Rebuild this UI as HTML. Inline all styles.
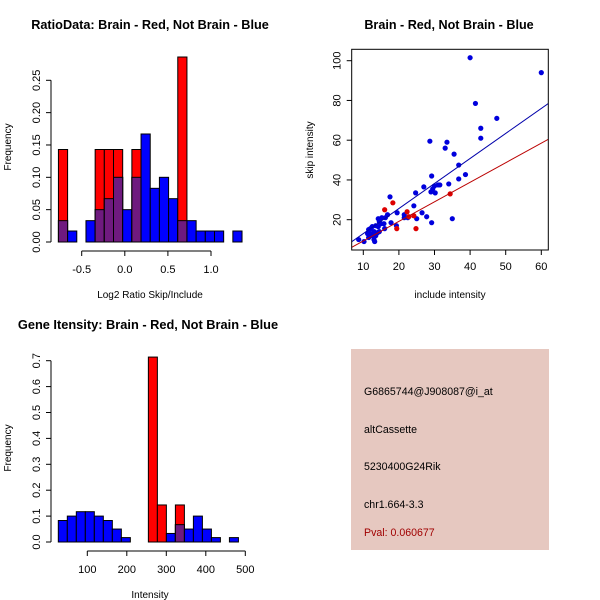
<!DOCTYPE html>
<html><head><meta charset="utf-8"><style>
html,body{margin:0;padding:0;background:#fff}
svg{display:block;font-family:"Liberation Sans",sans-serif}
</style></head><body>
<svg id="s" width="600" height="600" viewBox="0 0 600 600">
<text x="150" y="29" font-size="12.7" font-weight="bold" text-anchor="middle">RatioData: Brain - Red, Not Brain - Blue</text>
<text x="449" y="29" font-size="12.6" font-weight="bold" text-anchor="middle">Brain - Red, Not Brain - Blue</text>
<text x="148" y="329" font-size="12.8" font-weight="bold" text-anchor="middle">Gene Itensity: Brain - Red, Not Brain - Blue</text>
<rect x="351" y="349" width="198" height="201" fill="#e6c8c0"/>
<g font-size="10.6">
<text x="364" y="395">G6865744@J908087@i_at</text>
<text x="364" y="433">altCassette</text>
<text x="364" y="470">5230400G24Rik</text>
<text x="364" y="508">chr1.664-3.3</text>
<text x="364" y="536" fill="#a00000">Pval: 0.060677</text>
</g>
</svg>
<script>
// ---- Ratio histogram data ----
const ratioBinStart = -0.77, ratioBinWidth = 0.1065;
const ratioBlue = [0.033,0.017,0,0.033,0.05,0.067,0.1,0.05,0.1,0.167,0.083,0.1,0.067,0.033,0.033,0.017,0.017,0.017,0,0.017];
const ratioRed  = [0.143,0,0,0,0.143,0.143,0.143,0,0.143,0,0,0,0,0.286,0,0,0,0,0,0];
const ratioYTicks = [0,0.05,0.10,0.15,0.20,0.25];
const ratioYLabels = ["0.00","0.05","0.10","0.15","0.20","0.25"];
const ratioXTicks = [-0.5,0,0.5,1.0];
const ratioXLabels = ["-0.5","0.0","0.5","1.0"];
// ---- Intensity histogram data ----
const intBinStart = 26.6, intBinWidth = 22.8;
const intBlue = [0.083,0.1,0.117,0.117,0.1,0.083,0.05,0.017,0,0,0,0,0.033,0.067,0.05,0.1,0.05,0.017,0,0.017];
const intRed  = [0,0,0,0,0,0,0,0,0,0,0.714,0.143,0,0.143,0,0,0,0,0,0];
const intYTicks = [0,0.1,0.2,0.3,0.4,0.5,0.6,0.7];
const intYLabels = ["0.0","0.1","0.2","0.3","0.4","0.5","0.6","0.7"];
const intXTicks = [100,200,300,400,500];
const intXLabels = ["100","200","300","400","500"];
// ---- Scatter data ----
const blueX = [40,60,41.5,47.5,43,43,28.7,33.5,33,35.5,36.8,38.7,36.8,29.2,34,31,31.5,30,29.5,29,30.2,27,24.7,17.5,24.2,26.5,27.8,25,35,29.2,19.5,21.5,21.5,22.5,17.8,19.3,16.8,16.2,15.2,14.2,14.5,15,15.8,14.2,13.5,12.5,12,11.5,11.2,12,13,12.5,13.5,14,13,13.2,11.5,10.2,8.7,16,14.5];
const blueY = [101.5,94,78.5,71,66,61,59.5,59,56,53,47.5,42.7,40.5,42,38,37.5,37.5,37,35.5,34,33.5,36.5,33.5,31.5,27,23.5,21.5,20.5,20.5,18.5,23.5,22.5,21,21,18.5,17,22.5,21,21,20.5,19,18,18,16.5,17,16.5,15.5,15,13,13,14,12,12,13.5,10,9,11,9,10,15.5,14];
const redX = [16,18.3,22.3,22.8,24.2,19.4,24.8,34.4];
const redY = [25,28.5,24,21.5,22,15.5,15.5,33];
const fitBlue = [0.4,1.26];   // intercept, slope
const fitRed = [-0.53,0.984];
const scXTicks = [10,20,30,40,50,60];
const scYTicks = [20,40,60,80,100];

const svg = document.getElementById('s');
const NS = 'http://www.w3.org/2000/svg';
function mk(tag, attrs, parent){const e=document.createElementNS(NS,tag);for(const k in attrs)e.setAttribute(k,attrs[k]);(parent||svg).appendChild(e);return e;}
const PURPLE = '#6f1a7f';

function hist(cfg){
  const g = mk('g',{});
  
  
  const xs = v => cfg.x0 + (v - cfg.xref) * cfg.xk;
  const ys = v => cfg.y0 - v * cfg.yk;
  cfg.blue.forEach((b,i)=>{
    const l = xs(cfg.start + i*cfg.w), r = xs(cfg.start + (i+1)*cfg.w);
    const red = cfg.red[i];
    if (b > 0) { const e = mk('rect',{x:l,y:ys(b),width:r-l,height:ys(0)-ys(b),fill:'#0000ff',stroke:'#000','stroke-width':1},g);
        }
    if (red > 0) { const e = mk('rect',{x:l,y:ys(red),width:r-l,height:ys(0)-ys(red),fill:'#ff0000',stroke:'#000','stroke-width':1},g);
        }
    if (b > 0 && red > 0) { const m = Math.min(b, red); const e = mk('rect',{x:l,y:ys(m),width:r-l,height:ys(0)-ys(m),fill:PURPLE,stroke:'#000','stroke-width':1},g);
        }
  });
  const ya = mk('g',{},g);
   
  const yt = cfg.yticks;
  mk('line',{x1:cfg.ax,x2:cfg.ax,y1:ys(yt[0]),y2:ys(yt[yt.length-1]),stroke:'#000'},ya);
  yt.forEach((t,i)=>{ const y = ys(t);
    mk('line',{x1:cfg.ax,x2:cfg.ax-5,y1:y,y2:y,stroke:'#000'},ya);
    const tx = mk('text',{x:0,y:0,'font-size':11,'text-anchor':'middle',transform:`translate(${cfg.ax-11},${y}) rotate(-90)`},ya);
    tx.textContent = cfg.ylabels[i];
     
  });
  const xa = mk('g',{},g);
   
  const xt = cfg.xticks;
  mk('line',{x1:xs(xt[0]),x2:xs(xt[xt.length-1]),y1:cfg.axy,y2:cfg.axy,stroke:'#000'},xa);
  xt.forEach((t,i)=>{ const x = xs(t);
    mk('line',{x1:x,x2:x,y1:cfg.axy,y2:cfg.axy+5,stroke:'#000'},xa);
    const tx = mk('text',{x:x,y:cfg.axy+22,'font-size':11,'text-anchor':'middle'},xa);
    tx.textContent = cfg.xlabels[i];
     
  });
  const xl = mk('text',{x:cfg.xlx,y:cfg.axy+47,'font-size':10,'text-anchor':'middle'},g);
  xl.textContent = cfg.xtitle;  
  const yl = mk('text',{x:0,y:0,'font-size':10,'text-anchor':'middle',transform:`translate(${cfg.ax-40},${cfg.yly}) rotate(-90)`},g);
  yl.textContent = 'Frequency';  
}

hist({name:'ratio-histogram',x0:124.8,xref:0,xk:86.2,y0:242,yk:646.8,start:ratioBinStart,w:ratioBinWidth,
  blue:ratioBlue,red:ratioRed,yticks:ratioYTicks,ylabels:ratioYLabels,xticks:ratioXTicks,xlabels:ratioXLabels,
  ax:51,axy:251,xtitle:'Log2 Ratio Skip/Include',xlx:150,yly:147});
hist({name:'intensity-histogram',x0:87.3,xref:100,xk:0.395,y0:542,yk:259,start:intBinStart,w:intBinWidth,
  blue:intBlue,red:intRed,yticks:intYTicks,ylabels:intYLabels,xticks:intXTicks,xlabels:intXLabels,
  ax:51,axy:551,xtitle:'Intensity',xlx:150,yly:448});

(function(){
  const g = mk('g',{});
   
  const L=351.7,R=548.3,T=49.3,B=250;
  const xs = v => 363.3 + (v-10)*3.56;
  const ys = v => 219.7 - (v-20)*1.9875;
  const xmin = 10+(L-363.3)/3.56, xmax = 10+(R-363.3)/3.56;
  const clip = mk('clipPath',{id:'pc'},g); mk('rect',{x:L,y:T,width:R-L,height:B-T},clip);
  const pts = mk('g',{'clip-path':'url(#pc)'},g);
   
  blueX.forEach((x,i)=>{ const c = mk('circle',{cx:xs(x),cy:ys(blueY[i]),r:2.6,fill:'#0000dd'},pts);
      });
  redX.forEach((x,i)=>{ const c = mk('circle',{cx:xs(x),cy:ys(redY[i]),r:2.6,fill:'#dd0000'},pts);
      });
  const lb = mk('line',{x1:xs(xmin),y1:ys(fitBlue[0]+fitBlue[1]*xmin),x2:xs(xmax),y2:ys(fitBlue[0]+fitBlue[1]*xmax),stroke:'#0000aa'},pts);
   
  const lr = mk('line',{x1:xs(xmin),y1:ys(fitRed[0]+fitRed[1]*xmin),x2:xs(xmax),y2:ys(fitRed[0]+fitRed[1]*xmax),stroke:'#bb0000'},pts);
   
  const box = mk('rect',{x:L,y:T,width:R-L,height:B-T,fill:'none',stroke:'#000'},g);
   
  scXTicks.forEach(t=>{ const x=xs(t);
    mk('line',{x1:x,x2:x,y1:B,y2:B+5,stroke:'#000'},g);
    const tx = mk('text',{x:x,y:B+20,'font-size':11,'text-anchor':'middle'},g);
    tx.textContent = t;   });
  scYTicks.forEach(t=>{ const y=ys(t);
    mk('line',{x1:L,x2:L-5,y1:y,y2:y,stroke:'#000'},g);
    const tx = mk('text',{x:0,y:0,'font-size':11,'text-anchor':'middle',transform:`translate(${L-11},${y}) rotate(-90)`},g);
    tx.textContent = t;   });
  const xl = mk('text',{x:450,y:298,'font-size':10,'text-anchor':'middle'},g);
  xl.textContent='include intensity';  
  const yl = mk('text',{x:0,y:0,'font-size':10,'text-anchor':'middle',transform:'translate(313,150) rotate(-90)'},g);
  yl.textContent='skip intensity';  
})();
</script>
</body></html>
